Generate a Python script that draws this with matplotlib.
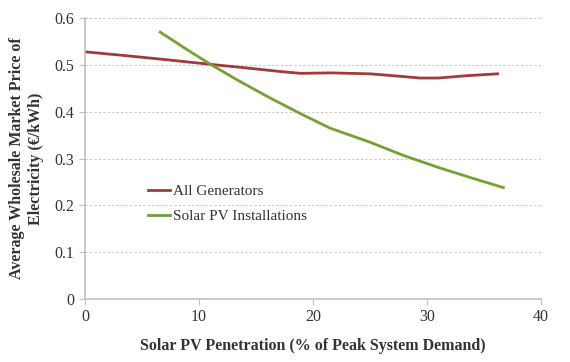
import matplotlib.pyplot as plt

pen_all = [0, 3.5, 7.2, 11.1, 14, 17.1, 18.9, 21.5, 25, 27.5, 29.4, 31, 33.5, 36.2]
price_all = [0.528, 0.520, 0.511, 0.501, 0.494, 0.486, 0.482, 0.483, 0.481, 0.476, 0.472, 0.472, 0.477, 0.481]

pen_pv = [6.6, 9, 11.1, 13.5, 16.2, 18.9, 21.5, 25, 27.9, 31, 34, 36.7]
price_pv = [0.570, 0.532, 0.500, 0.466, 0.430, 0.396, 0.365, 0.335, 0.307, 0.281, 0.258, 0.238]

plt.rcParams['font.family'] = ['Liberation Serif', 'DejaVu Serif']

fig = plt.figure(figsize=(5.7, 3.62), dpi=100)
ax = fig.add_axes([0.149, 0.174, 0.80, 0.776])

ax.plot(pen_all, price_all, color='#a33a3a', lw=2, label='All Generators')
ax.plot(pen_pv, price_pv, color='#76a034', lw=2, label='Solar PV Installations')

ax.set_xlim(0, 40)
ax.set_ylim(0, 0.6)
ax.set_xticks([0, 10, 20, 30, 40])
ax.set_yticks([0, 0.1, 0.2, 0.3, 0.4, 0.5, 0.6])
ax.set_yticklabels(['0', '0.1', '0.2', '0.3', '0.4', '0.5', '0.6'])
ax.yaxis.grid(True, linestyle=(0, (2, 2)), color='#c8c8c8', lw=0.8)
ax.set_axisbelow(True)

for s in ['top', 'right']:
    ax.spines[s].set_visible(False)
for s in ['left', 'bottom']:
    ax.spines[s].set_color('#c0c0c0')
    ax.spines[s].set_linewidth(1.2)
ax.tick_params(colors='#c0c0c0', labelcolor='#333333', labelsize=11.5, length=4)

ax.set_xlabel('Solar PV Penetration (% of Peak System Demand)', fontsize=11.5,
              fontweight='bold', color='#333333', labelpad=9)
ax.set_ylabel('Average Wholesale Market Price of\nElectricity (\u20ac/kWh)', fontsize=11.5,
              fontweight='bold', color='#333333', labelpad=8)

ax.legend(loc='lower left', bbox_to_anchor=(0.108, 0.22), frameon=False,
          fontsize=11, handlelength=1.45, handletextpad=0.2, labelspacing=0.75,
          labelcolor='#333333')

fig.savefig('out.png', dpi=100)
